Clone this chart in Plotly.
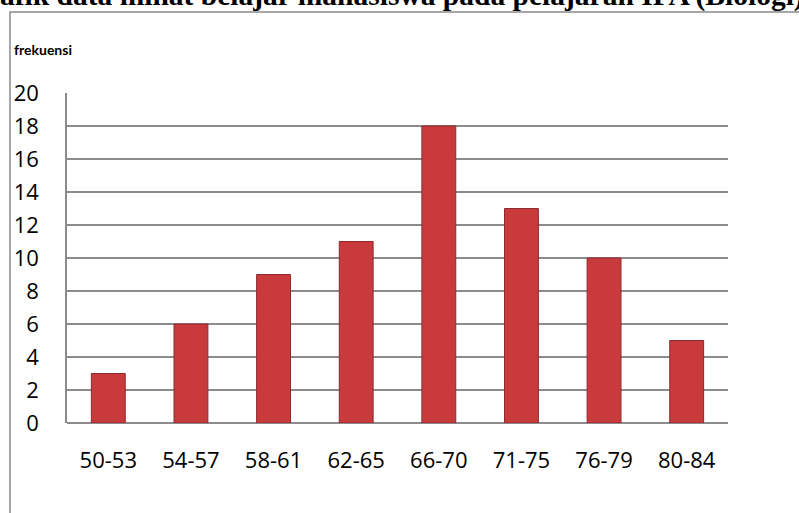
import plotly.graph_objects as go

categories = ["50-53", "54-57", "58-61", "62-65", "66-70", "71-75", "76-79", "80-84"]
frekuensi = [3, 6, 9, 11, 18, 13, 10, 5]
y_ticks = list(range(0, 21, 2))
title_text = "Grafik data minat belajar mahasiswa pada pelajaran IPA (Biologi)"
y_label = "frekuensi"

W, H = 799, 513
L, R, T, B = 67, 71, 93, 90
pw, ph = W - L - R, H - T - B

def px(x):
    return (x - L) / pw

def py(y):
    return (H - B - y) / ph

fig = go.Figure()
fig.add_trace(go.Bar(
    x=categories, y=frekuensi,
    marker=dict(color="#c93a3d", line=dict(color="#8e2a2d", width=1)),
    width=0.41,
))

fig.update_layout(
    width=W, height=H,
    margin=dict(l=L, r=R, t=T, b=B),
    paper_bgcolor="white", plot_bgcolor="white",
    showlegend=False,
    font=dict(family="Open Sans", color="black"),
    xaxis=dict(
        showgrid=False, showline=False, zeroline=False,
        tickfont=dict(size=22, family="Open Sans", color="black"),
        ticks="", ticklabelstandoff=22,
    ),
    yaxis=dict(
        range=[0, 20], tickvals=y_ticks,
        showgrid=True, gridcolor="#8c8c8c", gridwidth=1.5,
        zeroline=True, zerolinecolor="#8c8c8c", zerolinewidth=1.5,
        showline=True, linecolor="#8c8c8c", linewidth=1.5,
        tickfont=dict(size=22, family="Open Sans", color="black"),
        ticks="", ticklabelstandoff=22,
    ),
)

# chart border (extends past the right and bottom edges)
fig.add_shape(type="rect", xref="paper", yref="paper",
              x0=px(10), x1=px(820), y0=py(540), y1=py(12),
              line=dict(color="#8a8a8a", width=1.5), fillcolor="rgba(0,0,0,0)", layer="below")

fig.add_annotation(text="<b>" + y_label + "</b>", xref="paper", yref="paper",
                   x=px(12), y=py(50), xanchor="left", yanchor="middle",
                   showarrow=False, font=dict(size=14, family="Lato", color="black"))

fig.add_annotation(text="<b>" + title_text + "</b>", xref="paper", yref="paper",
                   x=px(806), y=py(7), xanchor="right", yanchor="bottom", yshift=-7,
                   showarrow=False, font=dict(size=29.5, family="Liberation Serif", color="black"))

fig.write_html("out.html")
